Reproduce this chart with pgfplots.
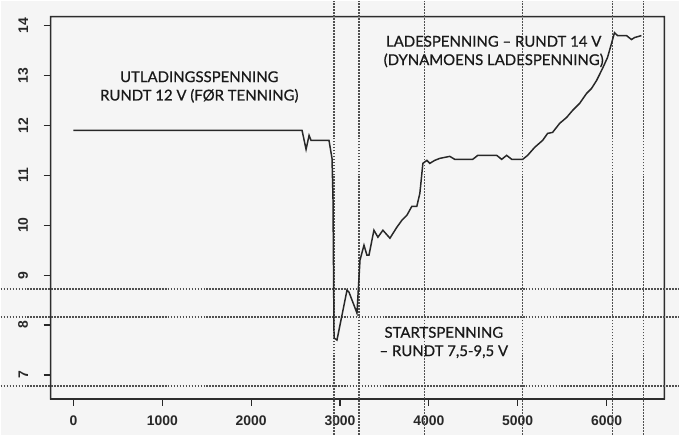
\documentclass[border=0pt]{standalone}
\usepackage{pgfplots}
\pgfplotsset{compat=1.18}
\usepackage{fontspec}
\setmainfont{Liberation Sans}
\newfontfamily\annfont[FakeBold=0.6]{Lato}
\definecolor{bgcol}{RGB}{245,245,245}
\definecolor{linecol}{RGB}{40,40,40}
\definecolor{framecol}{RGB}{45,45,45}
\definecolor{dashcol}{RGB}{80,80,80}
\begin{document}
\begin{tikzpicture}
\fill[bgcol] (-50bp,-36bp) rectangle (630bp,399bp);
\fill[framecol, even odd rule] (-0.8bp,-0.8bp) rectangle (615.8bp,383.8bp) (0.8bp,0.8bp) rectangle (614.2bp,382.2bp);
\begin{axis}[
  at={(0,0)}, anchor=south west,
  scale only axis, width=615bp, height=383bp,
  xmin=-258, xmax=6652, ymin=6.52, ymax=14.18,
  clip=false,
  axis line style={draw=framecol, line width=1.4pt},
  xtick={0,1000,...,6000}, ytick={7,8,...,14},
  xtick pos=bottom, ytick pos=left,
  tick align=outside, major tick length=7bp,
  tick style={linecol, line width=1.2pt},
  /pgf/number format/assume math mode=true,
  /pgf/number format/1000 sep={},
  ticklabel style={font=\fontsize{14}{16}\selectfont\bfseries, text=linecol},
  yticklabel style={xshift=-12bp, rotate=90, anchor=south},
  xticklabel style={yshift=-6bp},
]
\pgfplotsinvokeforeach{8.72,8.16,6.78}{
  \draw[dashcol, line width=1.3pt, dash pattern=on 1.8pt off 1.2pt] (axis cs:-820,#1) -- (axis cs:6820,#1);
}
\pgfplotsinvokeforeach{2933,3213,3955,5056,6067,6416}{
  \draw[dashcol, line width=1.3pt, dash pattern=on 1.8pt off 1.2pt] (axis cs:#1,5.8) -- (axis cs:#1,14.5);
}
\addplot[linecol, line width=1.5pt, mark=none] coordinates {
(0,11.9) (2573,11.9) (2618,11.52) (2652,11.8) (2674,11.7) (2876,11.7)
(2910,11.34) (2921,10.56) (2933,7.74) (2966,7.7) (3079,8.7) (3101,8.66)
(3191,8.24) (3225,9.3) (3270,9.6) (3303,9.4) (3326,9.4) (3382,9.9)
(3427,9.76) (3483,9.9) (3562,9.74) (3640,9.96) (3697,10.1) (3753,10.2)
(3809,10.38) (3865,10.38) (3899,10.64) (3933,11.24) (3978,11.3) (4011,11.24)
(4067,11.3) (4124,11.34) (4236,11.38) (4292,11.32) (4494,11.32) (4551,11.4)
(4764,11.4) (4820,11.32) (4876,11.4) (4933,11.32) (5056,11.32) (5112,11.4)
(5191,11.56) (5281,11.7) (5337,11.84) (5393,11.86) (5472,12.04) (5551,12.16)
(5618,12.3) (5697,12.44) (5775,12.64) (5831,12.74) (5888,12.9) (5955,13.14)
(6011,13.36) (6056,13.64) (6090,13.86) (6124,13.8) (6225,13.8) (6281,13.72)
(6315,13.76) (6393,13.8)
};
\node[font=\annfont\fontsize{15}{18.5}\selectfont, align=center, text=black!90] at (axis cs:1416,12.77)
  {UTLADINGSSPENNING\\RUNDT 12 V (FØR TENNING)};
\node[font=\annfont\fontsize{15}{18.5}\selectfont, align=center, text=black!90] at (axis cs:4730,13.48)
  {LADESPENNING – RUNDT 14 V\\(DYNAMOENS LADESPENNING)};
\node[font=\annfont\fontsize{15}{18.5}\selectfont, align=center, text=black!90] at (axis cs:4169,7.65)
  {STARTSPENNING\\– RUNDT 7,5-9,5 V};
\end{axis}
\end{tikzpicture}
\end{document}
